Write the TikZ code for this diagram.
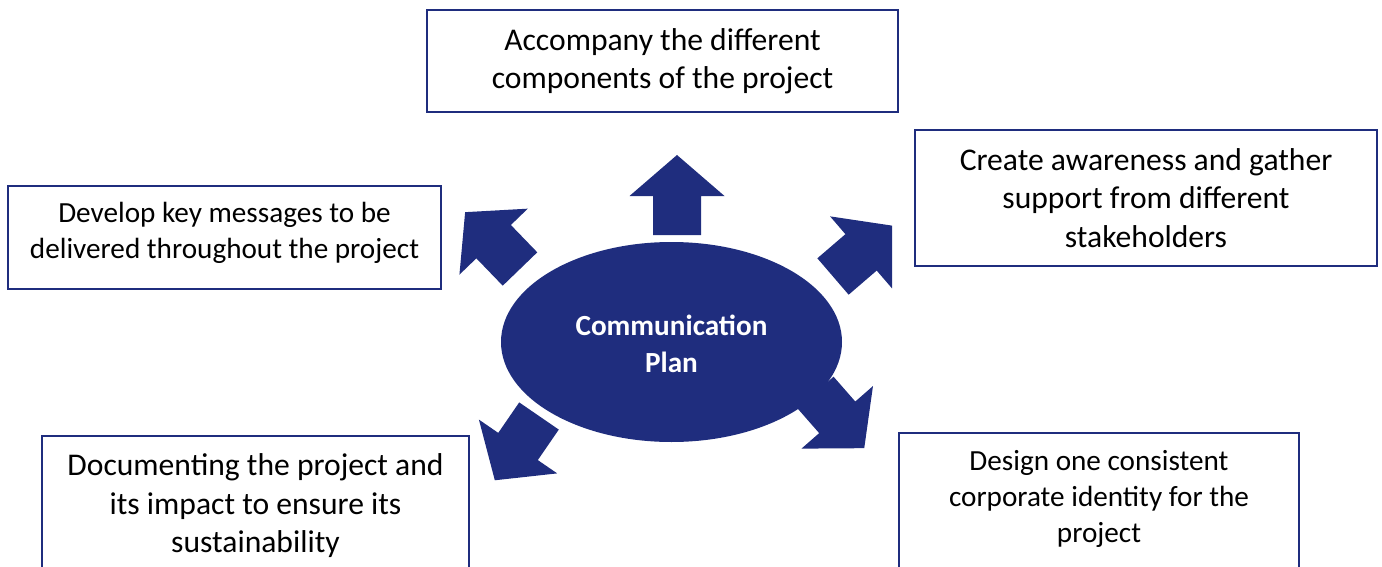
\documentclass[tikz,border=0pt]{standalone}
\usepackage{fontspec}
\setmainfont{Carlito}
\usetikzlibrary{shapes.geometric}
\definecolor{CP_Navy}{HTML}{1F2D7E}

\begin{document}
\begin{tikzpicture}[x=0.5pt, y=-0.5pt,
  goalbox/.style={draw=CP_Navy, line width=1pt, fill=white, align=center, inner sep=0pt},
  bigtext/.style={font=\fontsize{15.8pt}{19.2pt}\selectfont},
  smalltext/.style={font=\fontsize{14.6pt}{18pt}\selectfont}]
  \useasboundingbox (0,0) rectangle (1382,567);
  % Block arrows (tail x/y, angle, length)
  \foreach \ax/\ay/\ang/\len in {677/235/90/80, 520/269/134/79, 833/276.5/40.7/78,
                                 815.5/392.5/-48.8/74, 539/416/235.5/78} {
    \fill[CP_Navy, shift={(\ax,\ay)}, rotate=\ang]
      (0,-24) -- (\len-41,-24) -- (\len-41,-47.5) -- (\len,0)
      -- (\len-41,47.5) -- (\len-41,24) -- (0,24) -- cycle;
  }
  % Central ellipse
  \node[ellipse, fill=CP_Navy, minimum width=170.5pt, minimum height=100pt, inner sep=0pt,
        text=white, align=center, font=\fontsize{14.6pt}{18.5pt}\selectfont\bfseries]
        (plan) at (671.5,342) {\rule{0pt}{12.5pt}Communication\\Plan};
  % Goal boxes
  \node[goalbox, bigtext, minimum width=235.5pt, minimum height=51pt]
        (accompany) at (662.5,61) {Accompany the different\\components of the project};
  \node[goalbox, bigtext, minimum width=231pt, minimum height=68pt]
        (awareness) at (1146,198) {Create awareness and gather\\support from different\\stakeholders};
  \node[goalbox, smalltext, minimum width=216.5pt, minimum height=51.5pt]
        (messages) at (224.5,237.5) {Develop key messages to be\\delivered throughout the project\rule[-6.7pt]{0pt}{6.7pt}};
  \node[goalbox, bigtext, anchor=north, minimum width=213.5pt, inner ysep=9pt, text depth=60pt]
        (documenting) at (255.5,435) {Documenting the project and\\its impact to ensure its\\sustainability};
  \node[goalbox, smalltext, anchor=north, minimum width=200pt, inner ysep=8.75pt, text depth=60pt]
        (identity) at (1099,432) {Design one consistent\\corporate identity for the\\project};
\end{tikzpicture}
\end{document}
